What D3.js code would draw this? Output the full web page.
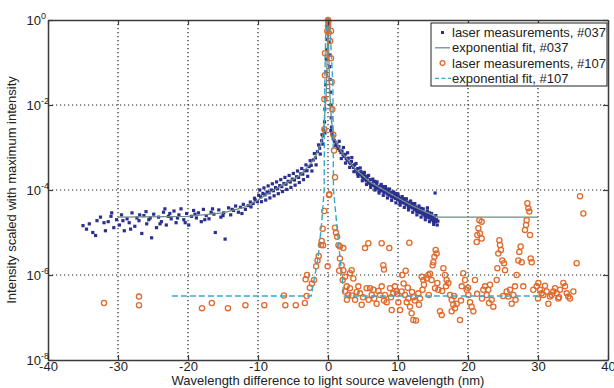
<!DOCTYPE html>
<html>
<head>
<meta charset="utf-8">
<script src="https://cdn.jsdelivr.net/npm/d3@7"></script>
<style>
  body { margin: 0; background: #fff; }
  svg { display: block; font-family: "Liberation Sans", Arial, sans-serif; }
</style>
</head>
<body>
<script>
// data: [wavelength difference (nm), intensity]
const laser037 = [
  // far left tail
  [-35.0,1.45e-5],[-34.5,1.2e-5],[-34.1,1.6e-5],[-33.6,1.0e-5],[-33.2,8.5e-6],[-33.0,1.9e-5],[-32.5,2.3e-5],
  [-32.0,1.7e-5],[-31.8,1.1e-5],[-31.4,1.8e-5],[-31.0,2.4e-5],[-30.9,2.9e-5],[-30.6,1.3e-5],[-30.2,2.0e-5],
  [-29.8,1.5e-5],[-29.5,2.6e-5],[-29.3,1.9e-5],[-29.1,1.1e-5],[-28.7,2.1e-5],[-28.4,1.7e-5],[-28.2,1.2e-5],
  [-28.0,2.9e-5],[-27.6,1.4e-5],[-27.3,2.2e-5],[-27.0,1.9e-5],[-26.9,2.6e-5],[-26.6,9.5e-6],[-26.3,2.5e-5],
  [-26.0,3.1e-5],[-25.9,1.6e-5],[-25.6,2.0e-5],[-25.4,2.2e-5],[-25.2,7.5e-6],[-24.9,2.7e-5],[-24.5,1.3e-5],
  [-24.2,2.3e-5],[-24.0,1.6e-5],[-23.8,1.8e-5],[-23.5,3.0e-5],[-23.3,3.6e-5],[-23.1,1.5e-5],[-22.8,2.4e-5],
  [-22.6,2.8e-5],[-22.4,2.1e-5],[-22.0,3.2e-5],[-21.7,1.7e-5],[-21.5,2.2e-5],[-21.3,2.6e-5],[-21.0,3.6e-5],
  [-20.6,2.0e-5],[-20.4,1.7e-5],[-20.2,2.8e-5],[-19.9,1.5e-5],[-19.5,2.4e-5],[-19.2,3.3e-5],[-19.0,2.7e-5],
  [-18.8,2.2e-5],[-18.5,2.9e-5],[-18.1,1.8e-5],[-17.8,3.5e-5],[-17.6,2.0e-5],[-17.4,2.5e-5],[-17.0,2.1e-5],
  [-16.7,3.0e-5],[-16.5,3.6e-5],[-16.3,2.7e-5],[-16.1,1.0e-5],[-15.6,3.4e-5],[-15.3,2.3e-5],[-15.0,2.5e-5],
  [-14.9,2.9e-5],[-14.7,7.0e-6],[-14.2,3.8e-5],[-13.9,2.6e-5],[-13.7,3.5e-5],[-13.5,3.3e-5],[-13.2,4.2e-5],
  [-12.8,3.0e-5],[-12.5,3.9e-5],[-12.3,2.8e-5],[-12.1,4.6e-5],[-11.8,3.5e-5],[-11.4,4.3e-5],[-11.1,5.2e-5],
  [-11.0,4.0e-5],[-10.7,4.8e-5],[-10.5,6.4e-5],[-10.4,5.8e-5],[-10.1,5.3e-5],
  // left shoulder
  [-9.9,7.5e-5],[-9.6,6.9e-5],[-9.3,8.3e-5],[-9.0,7.7e-5],[-8.7,9.0e-5],[-8.4,8.6e-5],[-8.1,1.0e-4],
  [-7.8,9.6e-5],[-7.5,1.14e-4],[-7.2,1.07e-4],[-6.9,1.27e-4],[-6.6,1.2e-4],[-6.3,1.42e-4],[-6.0,1.37e-4],
  [-5.7,1.6e-4],[-5.4,1.54e-4],[-5.1,1.8e-4],[-4.8,1.72e-4],[-4.5,2.05e-4],[-4.2,1.98e-4],[-3.9,2.4e-4],
  [-3.6,2.36e-4],[-3.3,2.85e-4],[-3.0,2.85e-4],[-2.7,3.55e-4],[-2.4,3.8e-4],[-2.1,5.1e-4],[-1.8,5.7e-4],
  [-1.5,8.0e-4],[-1.2,9.6e-4],[-0.9,1.45e-3],[-0.7,1.9e-3],
  [-9.75,1.0e-4],[-9.15,1.12e-4],[-8.55,1.25e-4],[-7.95,1.4e-4],[-7.35,1.55e-4],[-6.75,1.75e-4],
  [-6.15,1.98e-4],[-5.55,2.2e-4],[-4.95,2.45e-4],[-4.35,2.8e-4],[-3.75,3.2e-4],[-3.15,3.9e-4],[-2.55,4.9e-4],
  [-1.95,7.2e-4],[-1.35,1.15e-3],[-0.85,2.0e-3],
  [-9.5,5.3e-5],[-8.9,5.8e-5],[-8.3,6.5e-5],[-7.7,7.3e-5],[-7.1,8.2e-5],[-6.5,9.2e-5],[-5.9,1.03e-4],
  [-5.3,1.15e-4],[-4.7,1.3e-4],[-4.1,1.5e-4],[-3.5,1.75e-4],[-2.9,2.1e-4],[-2.3,2.8e-4],[-1.7,3.9e-4],
  [-1.1,7.0e-4],[-0.75,1.2e-3],
  // peak
  [-0.6,2.6e-3],[-0.5,4e-3],[-0.45,8e-3],[-0.4,1.5e-2],[-0.35,3e-2],[-0.3,6e-2],[-0.25,0.12],[-0.2,0.2],
  [-0.15,0.35],[-0.1,0.5],[-0.05,0.7],[0,1.0],[0.05,0.8],[0.1,0.55],[0.15,0.3],[0.2,0.15],[0.25,0.08],
  [0.3,0.04],[0.35,0.02],[0.4,1e-2],[0.45,5e-3],[0.5,3e-3],[0.55,2.2e-3],[0.65,1.9e-3],[0.75,1.6e-3],
  [0.9,1.45e-3],[-0.45,2.2e-3],[0.4,2.5e-3],
  // right shoulder
  [1.0,1.35e-3],[1.1,1.1e-3],[1.25,1.2e-3],[1.4,9.5e-4],[1.55,1.05e-3],[1.7,8.5e-4],[1.85,7.6e-4],
  [2.0,8.2e-4],[2.15,6.8e-4],[2.3,6.2e-4],[2.45,6.9e-4],[2.6,5.5e-4],[2.75,5.0e-4],[2.9,5.6e-4],[3.05,4.5e-4],
  [3.2,4.2e-4],[3.35,4.7e-4],[3.5,3.8e-4],[3.65,3.4e-4],[3.8,3.9e-4],[3.95,3.0e-4],[4.1,2.8e-4],[4.25,3.2e-4],
  [4.4,2.5e-4],[4.55,2.3e-4],[4.7,2.7e-4],[4.85,2.1e-4],[5.0,1.9e-4],[5.15,2.3e-4],[5.3,1.8e-4],[5.45,1.65e-4],
  [5.6,1.95e-4],[5.75,1.55e-4],[5.9,1.45e-4],[6.05,1.75e-4],[6.2,1.4e-4],[6.35,1.3e-4],[6.5,1.55e-4],
  [6.65,1.25e-4],[6.8,1.15e-4],[6.95,1.4e-4],[7.1,1.1e-4],[7.25,1.2e-4],[7.4,1.0e-4],[7.55,1.25e-4],
  [7.7,9.5e-5],[7.85,1.05e-4],[8.0,8.8e-5],[8.15,1.1e-4],[8.3,9.2e-5],[8.45,8.0e-5],[8.6,9.8e-5],[8.75,7.6e-5],
  [8.9,8.6e-5],[9.05,7.2e-5],[9.2,8.9e-5],[9.35,6.8e-5],[9.5,7.8e-5],[9.65,6.3e-5],[9.8,7.3e-5],[9.95,6.0e-5],
  [10.1,6.9e-5],[10.25,5.6e-5],[10.4,6.4e-5],[10.55,5.2e-5],[10.7,6.0e-5],[10.85,4.9e-5],[11.0,5.5e-5],
  [11.15,4.6e-5],[11.3,5.2e-5],[11.45,4.3e-5],[11.6,4.9e-5],[11.75,4.0e-5],[11.9,4.5e-5],[12.05,3.8e-5],
  [12.2,4.3e-5],[12.35,3.5e-5],[12.5,4.0e-5],[12.65,3.3e-5],[12.8,3.7e-5],[12.95,3.0e-5],[13.1,3.5e-5],
  [13.25,2.9e-5],[13.4,3.2e-5],[13.55,2.7e-5],[13.7,3.0e-5],[13.85,2.5e-5],[14.0,2.8e-5],[14.15,2.3e-5],
  [14.3,2.6e-5],[14.45,2.2e-5],[14.6,2.4e-5],[14.75,2.0e-5],[14.9,2.3e-5],[15.05,1.9e-5],[15.2,2.1e-5],
  [15.35,1.8e-5],[15.5,2.0e-5],[15.3,8.5e-5],[14.2,3.8e-5],[4.2,2.4e-4],[4.9,2.5e-4],[5.5,2.1e-4],
  [6.1,1.3e-4],[6.7,1.6e-4],[7.3,9.5e-5],[7.9,1.2e-4],[8.5,1.05e-4],[9.1,6.9e-5],[9.7,8.2e-5],[10.3,5.0e-5],
  [10.9,6.2e-5],[11.5,3.9e-5],[12.1,4.8e-5],[12.7,3.1e-5],[13.3,3.7e-5],[13.9,2.4e-5],[14.5,2.9e-5],
  [15.1,1.7e-5],[15.7,1.85e-5],
  [1.6,1.4e-3],[2.2,1.0e-3],[2.8,7.5e-4],[3.4,5.8e-4],[4.0,4.2e-4],[4.6,3.3e-4],[5.2,2.6e-4],[5.8,2.2e-4],
  [6.4,1.8e-4],[7.0,1.55e-4],[7.6,1.35e-4],[8.2,1.2e-4],[8.8,1.05e-4],[9.4,9e-5],[10.0,8e-5],[10.6,7e-5],
  [11.2,6.2e-5],[11.8,5.5e-5],[12.4,4.8e-5],[13.0,4.2e-5],[13.6,3.6e-5],[14.2,3.2e-5],[14.8,2.8e-5],
  [15.4,2.5e-5],
  [1.9,5.5e-4],[2.5,4.3e-4],[3.1,3.4e-4],[3.7,2.7e-4],[4.3,2.1e-4],[4.9,1.65e-4],[5.5,1.35e-4],[6.1,1.15e-4],
  [6.7,1.0e-4],[7.3,8.5e-5],[7.9,7.5e-5],[8.5,6.5e-5],[9.1,5.7e-5],[9.7,5.0e-5],[10.3,4.4e-5],[10.9,3.9e-5],
  [11.5,3.4e-5],[12.1,3.0e-5],[12.7,2.6e-5],[13.3,2.3e-5],[13.9,2.0e-5],[14.5,1.8e-5],[15.1,1.55e-5],
  [15.6,1.5e-5]
]

const fit037 = [
  [-30,2.3e-5],[-20,2.4e-5],[-15,2.9e-5],[-12,3.9e-5],[-10,5.8e-5],[-8,9.5e-5],[-6,1.45e-4],[-4,2.2e-4],
  [-2,5.2e-4],[-1,1.2e-3],[-0.6,2.6e-3],[-0.25,2e-2],[0,1],[0.25,2e-2],[0.5,4e-3],[1,1.5e-3],[2,7.5e-4],
  [4,3e-4],[6,1.55e-4],[8,1.0e-4],[10,6.5e-5],[12,4.3e-5],[14,3.0e-5],[15.7,2.3e-5],[30,2.3e-5]
]

const laser107 = [
  [-32,2.2e-7],[-27,3.1e-7],[-27,1.95e-7],[-18,1.66e-7],[-16.6,2.2e-7],[-14.3,1.66e-7],[-11.8,1.95e-7],
  [-9.1,1.95e-7],[-6.3,3.3e-7],[-6.1,1.95e-7],[-4.6,1.95e-7],[-3.3,2.2e-7],[-3.05,3.2e-7],[-3.2,7.9e-7],
  [-3.0,1.0e-6],[-2.6,5.0e-7],[-2.3,6.3e-7],[-2.0,7.6e-7],[-1.7,1.6e-6],[-1.5,2.2e-6],[-1.33,2.8e-6],
  [-1.0,5.1e-6],[-0.9,6.3e-6],[-0.7,5.0e-6],[-0.76,1.23e-5],[-0.53,3.2e-5],[-0.05,1.6e-6],[0.14,7.6e-5],
  [1.0,1.3e-5],[1.14,9.8e-6],[1.3,7.9e-6],[1.5,5.0e-6],[1.6,1.26e-6],
  [0,1.0],[0,0.71],[0.1,0.5],[-0.43,0.166],[0.3,0.32],[0.43,0.126],[-0.43,0.05],[0.52,0.035],[-0.52,0.0138],
  [0.62,7.9e-3],[-0.52,2.7e-3],[0.76,2.0e-3],[0.86,8.5e-4],[1.0,2.0e-4],[0.19,7.9e-5],[-0.1,0.55],
  [0.43,0.55],[0.05,0.89],
  [1.7,4.7e-6],[2.19,4.3e-6],[1.7,2.45e-6],[1.95,1.7e-6],[2.19,1.3e-6],[2.43,9.1e-7],[2.1,7.6e-7],
  [2.67,5.4e-7],[2.43,4.1e-7],[2.9,3.4e-7],[3.14,1.1e-6],[3.38,1.3e-6],[3.62,8.3e-7],[3.14,4.9e-7],
  [3.86,2.6e-7],[4.33,5.4e-7],[4.57,3.7e-7],[4.81,2.0e-7],[5.29,4.3e-6],[5.76,5.6e-6],[5.52,4.9e-7],
  [6.0,4.9e-7],[6.24,3.4e-7],[6.48,4.5e-7],[6.95,2.1e-7],[7.43,3.4e-7],[7.67,5.6e-6],[7.9,1.7e-6],
  [8.0,1.35e-6],[7.67,5.4e-7],[8.14,3.4e-7],[8.38,2.3e-7],[8.76,4.3e-6],[8.86,4.9e-7],[9.33,3.7e-7],
  [9.1,1.5e-7],[9.57,5.4e-7],[9.8,4.1e-7],[10.05,2.3e-7],[10.29,1.5e-7],[10.52,4.1e-7],[11.0,3.4e-7],
  [11.24,2.3e-7],[11.48,2.8e-7],[11.62,5.75e-6],[11.71,1.8e-7],[11.95,1.26e-7],[12.19,8.7e-8],
  [12.57,8.5e-8],[12.9,3.7e-7],[13.14,2.8e-7],[13.38,9.1e-7],[13.62,7.6e-7],[13.71,5.9e-7],[14.1,8.3e-7],
  [14.33,1.0e-6],[14.57,1.07e-6],[14.8,7.6e-7],[14.95,1.7e-6],[15.05,2.0e-6],[15.2,2.7e-6],[15.38,3.9e-6],
  [15.52,3.2e-6],[15.29,4.9e-7],[15.62,6.5e-7],[15.76,4.5e-7],[16.0,1.4e-7],[16.24,1.15e-7],[16.48,1.45e-6],
  [16.71,1.0e-6],[16.95,7.6e-7],[16.86,5.4e-7],[17.19,6.5e-7],[17.43,3.4e-7],[17.67,2.6e-7],[17.9,2.0e-7],
  [18.14,1.66e-7],[18.38,2.1e-7],[17.67,1.4e-7],[18.86,8.7e-8],[19.1,5.4e-7],[19.33,1.1e-6],[19.57,7.6e-7],
  [19.81,4.5e-7],[20.05,3.4e-7],[20.29,2.3e-7],[20.52,1.8e-7],[20.76,1.4e-7],[21.0,7.6e-7],[21.24,6.0e-6],
  [21.33,8.7e-6],[21.48,1.26e-5],[21.62,1.95e-5],[21.95,1.8e-5],[21.71,9.5e-6],[21.95,7.2e-6],[22.19,4.5e-7],
  [22.43,5.4e-7],[22.67,3.4e-7],[22.9,4.5e-7],[23.14,5.9e-7],[23.38,2.6e-7],[23.62,1.8e-7],[24.1,7.6e-7],
  [24.19,1.45e-6],[24.33,3.2e-6],[24.48,6.6e-6],[24.57,5.1e-6],[24.71,3.9e-6],[24.9,2.2e-6],[25.14,1.9e-6],
  [25.29,1.3e-6],[25.52,4.1e-7],[25.76,3.1e-7],[26.0,4.5e-7],[26.24,2.1e-7],[26.48,3.4e-7],[26.71,5.4e-7],
  [26.95,1.0e-6],[27.19,2.2e-6],[27.33,3.5e-6],[27.52,4.7e-6],[27.67,2.0e-6],[27.9,5.4e-7],[28.14,1.15e-5],
  [28.38,1.95e-5],[28.48,4.9e-5],[28.62,3.7e-5],[28.76,3.1e-5],[28.29,1.5e-5],[28.86,8.7e-6],[28.95,2.45e-6],
  [29.1,2.0e-6],[29.33,4.5e-7],[29.81,5.4e-7],[30.05,6.5e-7],[30.29,4.5e-7],[30.52,3.7e-7],[30.76,3.4e-7],
  [31.24,4.1e-7],[31.48,2.1e-7],[31.71,3.1e-7],[31.95,3.4e-7],[32.19,4.1e-7],[32.43,4.9e-7],[32.67,3.7e-7],
  [32.9,2.8e-7],[33.14,4.5e-7],[33.62,6.5e-7],[33.86,5.4e-7],[34.1,3.7e-7],[34.33,3.1e-7],[34.57,2.8e-7],
  [35.05,4.1e-7],[35.52,1.9e-6],[36.0,7.1e-5],[36.48,2.8e-5],
  [10.8,6.3e-7],[11.4,5.0e-7],[12.0,4.0e-7],[12.4,2.5e-7],[10.6,1.0e-6],[11.1,1.26e-6],
  [5.0,3.0e-7],[5.8,2.6e-7],[6.6,2.8e-7],[7.2,4.2e-7],[8.0,2.5e-7],[9.0,3.0e-7],[9.9,3.6e-7],[12.2,3.0e-7],
  [13.0,2.0e-7],[13.5,4.5e-7],[14.4,3.4e-7],[16.3,4.2e-7],[18.0,3.2e-7],[19.0,2.5e-7],[20.0,5.0e-7],
  [21.3,3.6e-7],[22.0,2.8e-7],[23.0,2.2e-7],[25.0,3.2e-7],[26.8,2.6e-7],[30.0,2.8e-7],[31.0,5.6e-7],
  [33.0,3.0e-7],[2.7,2.6e-7],[3.4,3.3e-7],[4.1,4.0e-7]
]

const fit107 = [
  [-22.3,3.2e-7],[-2.4,3.2e-7],[-1.4,2.7e-6],[-0.9,1.7e-5],[-0.55,1e-4],[-0.5,1e-2],[-0.35,0.4],[0,1],
  [0.3,0.6],[0.7,3e-2],[0.78,1e-4],[1.7,2.7e-6],[2.3,3.2e-7],[30,3.2e-7]
]

const xTicks = [-40, -30, -20, -10, 0, 10, 20, 30, 40]
const yExponents = [0, -2, -4, -6, -8]
const legendLabels = ['laser measurements, #037', 'exponential fit, #037', 'laser measurements, #107', 'exponential fit, #107']

const blue = '#2b2f8f'
const fitGray = '#6e8e86'
const orange = '#e06a2c'
const cyan = '#35a9cc'
const ink = '#222'

const width = 614
const height = 388
const margin = { top: 20, right: 6, bottom: 28, left: 48 }

const svg = d3.select('body')
  .append('svg')
  .attr('width', width)
  .attr('height', height)

const x = d3.scaleLinear().domain([-40, 40]).range([margin.left, width - margin.right])
const y = d3.scaleLog().domain([1e-8, 1]).range([height - margin.bottom, margin.top])

// dotted grid
const grid = svg.append('g')
  .attr('stroke', '#222')
  .attr('stroke-width', 1.2)
  .attr('stroke-dasharray', '1.2,2.8')
grid.selectAll('line.gx').data(xTicks.slice(1, -1))
  .enter().append('line')
  .attr('x1', d => x(d)).attr('x2', d => x(d))
  .attr('y1', y(1)).attr('y2', y(1e-8))
grid.selectAll('line.gy').data(yExponents.slice(1, -1))
  .enter().append('line')
  .attr('y1', d => y(Math.pow(10, d))).attr('y2', d => y(Math.pow(10, d)))
  .attr('x1', x(-40)).attr('x2', x(40))

const plot = svg.append('g')

plot.selectAll('rect.p037').data(laser037)
  .enter().append('rect')
  .attr('x', d => x(d[0]) - 1.6)
  .attr('y', d => y(d[1]) - 1.6)
  .attr('width', 3.2)
  .attr('height', 3.2)
  .attr('fill', blue)

const line = d3.line()
  .x(d => x(d[0]))
  .y(d => y(d[1]))

plot.append('path')
  .attr('d', line(fit037))
  .attr('fill', 'none')
  .attr('stroke', fitGray)
  .attr('stroke-width', 1.3)

plot.selectAll('circle.p107').data(laser107)
  .enter().append('circle')
  .attr('cx', d => x(d[0]))
  .attr('cy', d => y(d[1]))
  .attr('r', 2.6)
  .attr('fill', 'none')
  .attr('stroke', orange)
  .attr('stroke-width', 1.3)

plot.append('path')
  .attr('d', line(fit107))
  .attr('fill', 'none')
  .attr('stroke', cyan)
  .attr('stroke-width', 1.4)
  .attr('stroke-dasharray', '6,3')

// axes box with inward ticks
const axisColor = '#3a3a3a'
const xb = svg.append('g')
  .attr('transform', `translate(0, ${y(1e-8)})`)
  .call(d3.axisBottom(x).tickValues(xTicks).tickSizeInner(-5).tickSizeOuter(0).tickPadding(2).tickFormat(d => d))
const xt = svg.append('g')
  .attr('transform', `translate(0, ${y(1)})`)
  .call(d3.axisTop(x).tickValues(xTicks).tickSizeInner(-5).tickSizeOuter(0).tickFormat(''))
const yl = svg.append('g')
  .attr('transform', `translate(${x(-40)}, 0)`)
  .call(d3.axisLeft(y).tickValues(yExponents.map(e => Math.pow(10, e))).tickSizeInner(-5).tickSizeOuter(0).tickFormat(''))
const yr = svg.append('g')
  .attr('transform', `translate(${x(40)}, 0)`)
  .call(d3.axisRight(y).tickValues(yExponents.map(e => Math.pow(10, e))).tickSizeInner(-5).tickSizeOuter(0).tickFormat(''))

;[xb, xt, yl, yr].forEach(g => {
  g.select('.domain').attr('stroke', axisColor).attr('stroke-width', 1.5)
  g.selectAll('.tick line').attr('stroke', axisColor).attr('stroke-width', 1.2)
})
xb.selectAll('.tick text')
  .attr('fill', ink)
  .attr('font-size', 13)
  .attr('font-family', '"Liberation Sans", Arial, sans-serif')

// y tick labels as 10^n
const yLabels = svg.append('g')
  .attr('fill', ink)
  .attr('font-size', 13)
yExponents.forEach(e => {
  const t = yLabels.append('text')
    .attr('x', 26.5)
    .attr('y', y(Math.pow(10, e)) + 5)
    .text('10')
  t.append('tspan')
    .attr('dy', -6)
    .attr('font-size', 9)
    .text(e)
})

svg.append('text')
  .attr('x', (x(-40) + x(40)) / 2)
  .attr('y', 385)
  .attr('text-anchor', 'middle')
  .attr('font-size', 13)
  .attr('fill', ink)
  .text('Wavelength difference to light source wavelength (nm)')

svg.append('text')
  .attr('transform', `translate(16, ${(y(1) + y(1e-8)) / 2}) rotate(-90)`)
  .attr('text-anchor', 'middle')
  .attr('font-size', 13)
  .attr('fill', ink)
  .text('Intensity scaled with maximum intensity')

// legend
const legend = svg.append('g').attr('transform', 'translate(431, 23)')
legend.append('rect')
  .attr('width', 176)
  .attr('height', 63)
  .attr('fill', '#fff')
  .attr('stroke', '#222')
  .attr('stroke-width', 1)

const rowY = i => 9.5 + i * 15.3
legend.append('rect')
  .attr('x', 10).attr('y', rowY(0) - 1.5)
  .attr('width', 3).attr('height', 3)
  .attr('fill', blue)
legend.append('line')
  .attr('x1', 4).attr('x2', 19)
  .attr('y1', rowY(1)).attr('y2', rowY(1))
  .attr('stroke', fitGray).attr('stroke-width', 1.3)
legend.append('circle')
  .attr('cx', 11.5).attr('cy', rowY(2))
  .attr('r', 2.4)
  .attr('fill', 'none').attr('stroke', orange).attr('stroke-width', 1.3)
legend.append('line')
  .attr('x1', 4).attr('x2', 20)
  .attr('y1', rowY(3)).attr('y2', rowY(3))
  .attr('stroke', cyan).attr('stroke-width', 1.4)
  .attr('stroke-dasharray', '4,2.5')

legend.selectAll('text.lab').data(legendLabels)
  .enter().append('text')
  .attr('x', 21)
  .attr('y', (d, i) => rowY(i) + 4.5)
  .attr('font-size', 13)
  .attr('fill', ink)
  .text(d => d)
</script>
</body>
</html>
